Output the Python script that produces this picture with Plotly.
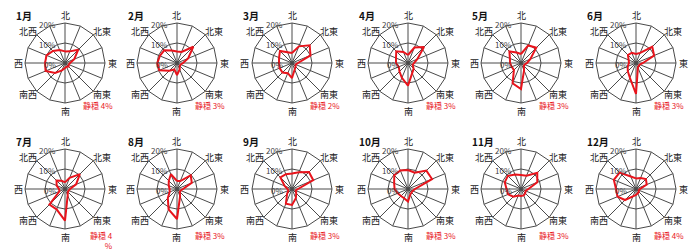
import math
import plotly.graph_objects as go

directions = ["北", "北北東", "北東", "東北東", "東", "東南東", "南東", "南南東",
              "南", "南南西", "南西", "西南西", "西", "西北西", "北西", "北北西"]
main_labels = ["北", "", "北東", "", "東", "", "南東", "",
               "南", "", "南西", "", "西", "", "北西", ""]
months = ["1月", "2月", "3月", "4月", "5月", "6月",
          "7月", "8月", "9月", "10月", "11月", "12月"]
calm = ["静穏 4%", "静穏 3%", "静穏 2%", "静穏 3%", "静穏 3%", "静穏 3%",
        "静穏 4<br>%", "静穏 3%", "静穏 3%", "静穏 3%", "静穏 3%", "静穏 4%"]

jan = [5.8, 6.3, 9.4, 5.0, 2.5, 2.0, 2.5, 2.0, 2.5, 4.0, 7.0, 10.5, 10.0, 10.0, 8.5, 7.0]
feb = [5.7, 6.0, 11.5, 6.0, 3.0, 2.0, 2.0, 3.5, 6.0, 3.5, 5.4, 9.6, 9.8, 9.3, 9.0, 6.8]
mar = [5.0, 9.0, 12.5, 10.0, 3.0, 2.0, 2.5, 3.5, 7.5, 5.5, 6.7, 6.7, 6.5, 7.0, 8.5, 5.8]
apr = [4.0, 8.4, 11.3, 5.0, 3.0, 2.5, 4.0, 5.5, 11.3, 8.0, 6.0, 5.0, 6.0, 6.5, 8.3, 6.0]
may = [4.5, 9.5, 10.8, 5.0, 3.0, 2.0, 2.0, 4.0, 13.0, 11.0, 5.0, 5.0, 5.5, 6.0, 8.2, 5.7]
jun = [4.5, 5.5, 11.5, 9.8, 3.5, 2.0, 2.0, 2.5, 15.5, 8.0, 5.8, 4.5, 3.5, 4.0, 5.7, 5.5]
jul = [3.3, 6.0, 10.5, 6.0, 2.5, 2.0, 2.0, 3.5, 15.8, 11.0, 11.0, 3.0, 3.0, 4.5, 6.0, 4.5]
aug = [4.0, 4.3, 9.7, 8.0, 3.0, 2.0, 2.0, 4.0, 15.0, 11.0, 6.5, 4.0, 3.7, 4.5, 5.8, 8.0]
sep = [7.8, 9.0, 12.0, 11.5, 3.0, 2.0, 3.0, 5.0, 8.0, 8.0, 3.5, 2.0, 2.2, 4.0, 8.2, 8.0]
oct_ = [9.5, 8.8, 13.0, 13.0, 3.5, 2.5, 2.5, 3.0, 6.3, 5.0, 5.0, 5.5, 6.7, 7.5, 9.7, 10.0]
nov = [7.0, 7.2, 11.5, 8.8, 3.7, 2.5, 3.0, 3.5, 3.5, 3.5, 5.4, 7.0, 7.2, 8.8, 9.3, 7.8]
dec = [5.3, 6.0, 7.0, 5.8, 2.0, 1.5, 2.0, 2.3, 3.0, 4.0, 7.8, 10.0, 10.0, 12.0, 11.6, 6.8]
series = [jan, feb, mar, apr, may, jun, jul, aug, sep, oct_, nov, dec]

radial_ticks = [0, 10, 20]
radial_text = ["0%", "10%", "20%"]
R_MAX = 20

W, H = 700, 252
col_cx = [65, 177, 292, 408, 521, 636]
row_cy = [63, 189]
R = 40
LABEL_RX, LABEL_RY = 47, 48

FONT = "Noto Sans CJK JP, Noto Sans, sans-serif"
GRID = "#4a4a4a"
RED = "#e8141c"

fig = go.Figure()
annotations = []
layout_polars = {}
for i, (m, vals) in enumerate(zip(months, series)):
    row, col = divmod(i, 6)
    cx, cy = col_cx[col], row_cy[row]
    name = "polar" if i == 0 else f"polar{i+1}"
    layout_polars[name] = dict(
        domain=dict(x=[(cx - R) / W, (cx + R) / W],
                    y=[(H - cy - R) / H, (H - cy + R) / H]),
        bgcolor="white",
        gridshape="linear",
        angularaxis=dict(type="category", categoryarray=directions,
                         rotation=90, direction="clockwise",
                         showticklabels=False,
                         showline=True, linecolor=GRID, linewidth=1,
                         gridcolor=GRID, gridwidth=0.8, ticks=""),
        radialaxis=dict(range=[0, R_MAX], tickmode="array", tickvals=radial_ticks,
                        angle=90, showticklabels=False,
                        showline=False, ticks="", gridcolor=GRID, gridwidth=0.8),
    )
    fig.add_trace(go.Scatterpolar(
        r=vals + vals[:1], theta=directions + directions[:1], mode="lines",
        line=dict(color=RED, width=2), subplot=name, showlegend=False,
        hoverinfo="skip"))
    fig.add_trace(go.Scatterpolar(
        r=[0], theta=[directions[0]], mode="markers",
        marker=dict(color="black", size=5), subplot=name, showlegend=False,
        hoverinfo="skip"))
    # radial tick labels, left of the north spoke
    for tv, tt in zip(radial_ticks, radial_text):
        ty = cy - tv / R_MAX * R + 1
        annotations.append(dict(x=(cx - 7) / W, y=(H - ty) / H, xref="paper", yref="paper",
                                text=tt, showarrow=False, xanchor="right", yanchor="middle",
                                font=dict(family=FONT, size=8, color="#404040")))
    # direction labels
    for k, lab in enumerate(main_labels):
        if not lab:
            continue
        a = math.radians(k * 22.5)
        lx = cx + LABEL_RX * math.sin(a) * (1.1 if k % 4 == 2 else 1.0)
        ly = cy - LABEL_RY * math.cos(a) * (0.92 if k % 4 == 2 else 1.0)
        annotations.append(dict(x=lx / W, y=(H - ly) / H, xref="paper", yref="paper",
                                text=lab, showarrow=False, xanchor="center", yanchor="middle",
                                font=dict(family=FONT, size=9, color="#222")))
    annotations.append(dict(x=(cx - 51) / W, y=(H - cy + 48) / H, xref="paper", yref="paper",
                            text=f"<b>{m}</b>", showarrow=False, xanchor="left", yanchor="middle",
                            font=dict(family=FONT, size=10, color="#111")))
    top = cy + (35 if row == 0 else 39)
    annotations.append(dict(x=(cx + 50) / W, y=(H - top) / H, xref="paper", yref="paper",
                            text=calm[i], showarrow=False, xanchor="right", yanchor="top",
                            align="right",
                            font=dict(family=FONT, size=8, color=RED)))

fig.update_layout(width=W, height=H, margin=dict(l=0, r=0, t=0, b=0),
                  paper_bgcolor="white", plot_bgcolor="white",
                  annotations=annotations, **layout_polars)
fig.write_html("out.html", config={"displayModeBar": False},
               post_script="document.body.style.margin='0';document.body.style.overflow='hidden';")
